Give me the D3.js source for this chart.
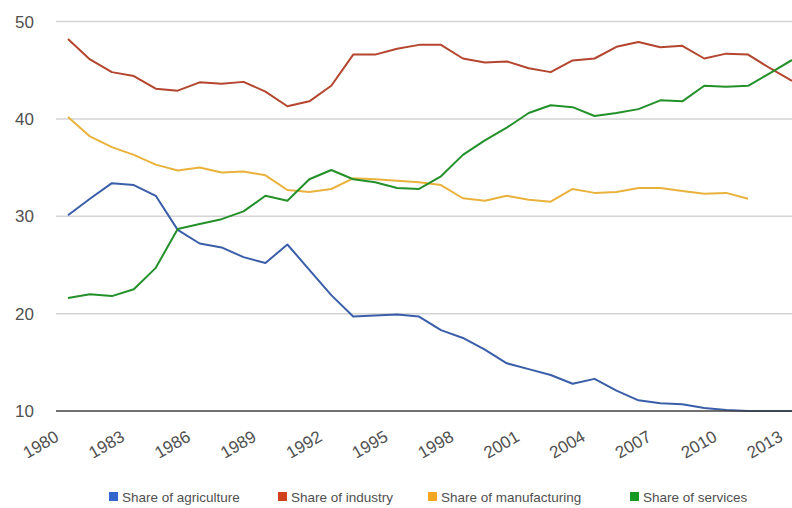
<!DOCTYPE html>
<html><head><meta charset="utf-8">
<script src="https://cdn.jsdelivr.net/npm/d3@7"></script>
<style>body{margin:0;background:#fff}svg{display:block}</style>
</head><body><svg id="c" width="792" height="508"></svg>
<script>
const years = d3.range(1980, 2014);
const agriculture = [30.1,31.8,33.4,33.2,32.1,28.6,27.2,26.8,25.8,25.2,27.1,24.5,21.9,19.7,19.8,19.9,19.7,18.3,17.5,16.3,14.9,14.3,13.7,12.8,13.3,12.1,11.1,10.8,10.7,10.3,10.1,10.0,10.0,10.0];
const industry = [48.2,46.1,44.8,44.4,43.1,42.9,43.75,43.6,43.8,42.8,41.3,41.8,43.4,46.6,46.6,47.2,47.6,47.6,46.2,45.8,45.9,45.2,44.8,46.0,46.2,47.4,47.9,47.35,47.5,46.2,46.7,46.6,45.2,43.9];
const manufacturing = [40.2,38.2,37.1,36.3,35.3,34.7,35.0,34.5,34.6,34.2,32.7,32.5,32.8,33.9,33.8,33.65,33.5,33.2,31.85,31.6,32.1,31.7,31.5,32.8,32.4,32.5,32.9,32.9,32.6,32.3,32.4,31.8];
const services = [21.6,22.0,21.8,22.5,24.7,28.7,29.2,29.7,30.5,32.1,31.6,33.8,34.75,33.8,33.5,32.9,32.8,34.1,36.3,37.8,39.1,40.6,41.4,41.2,40.3,40.6,41.0,41.9,41.8,43.4,43.3,43.4,44.7,46.05];
const seriesNames = ["Share of agriculture","Share of industry","Share of manufacturing","Share of services"];
const lineColors = ["#3a5ea8","#b4452e","#e9b23c","#23902a"];
const swatchColors = ["#3366cc","#d0421b","#f5a623","#169a23"];
const yTicks = [10,20,30,40,50];
const xTicks = d3.range(1980, 2014, 3);

const svg = d3.select("#c");
const x = d3.scaleLinear().domain([1980,2013]).range([68,792]);
const y = d3.scaleLinear().domain([10,50]).range([411,21.5]);

// gridlines
svg.append("g").selectAll("line").data(yTicks.filter(t=>t>10)).join("line")
  .attr("x1",56).attr("x2",792).attr("y1",d=>y(d)).attr("y2",d=>y(d))
  .attr("stroke","#d4d4d4").attr("stroke-width",1.5);

// y labels
svg.append("g").selectAll("text").data(yTicks).join("text")
  .attr("x",34).attr("y",d=>y(d)+6).attr("text-anchor","end")
  .attr("font-family","Liberation Sans, Arial, sans-serif").attr("font-size",17)
  .attr("fill","#505050").text(d=>d);

// x labels
svg.append("g").selectAll("text").data(xTicks).join("text")
  .attr("transform",d=>`translate(${x(d)-8},${440}) rotate(-30)`)
  .attr("text-anchor","end")
  .attr("font-family","Liberation Sans, Arial, sans-serif").attr("font-size",17)
  .attr("fill","#505050").text(d=>d);

const all = [agriculture, industry, manufacturing, services];
const line = d3.line().x((d,i)=>x(years[i])).y(d=>y(d));
svg.append("g").selectAll("path").data(all).join("path")
  .attr("d",d=>line(d)).attr("fill","none")
  .attr("stroke",(d,i)=>lineColors[i]).attr("stroke-width",2)
  .attr("stroke-linejoin","round");

// baseline
svg.append("line").attr("x1",56).attr("x2",792).attr("y1",y(10)).attr("y2",y(10))
  .attr("stroke","#404040").attr("stroke-width",1.5);

// legend
const legendX = [109,278,428,630];
const lg = svg.append("g").selectAll("g").data(seriesNames).join("g")
  .attr("transform",(d,i)=>`translate(${legendX[i]},492)`);
lg.append("rect").attr("width",9).attr("height",9).attr("fill",(d,i)=>swatchColors[i]);
lg.append("text").attr("x",13).attr("y",9.5)
  .attr("font-family","Liberation Sans, Arial, sans-serif").attr("font-size",13.5)
  .attr("fill","#505050").text(d=>d);
</script></body></html>
